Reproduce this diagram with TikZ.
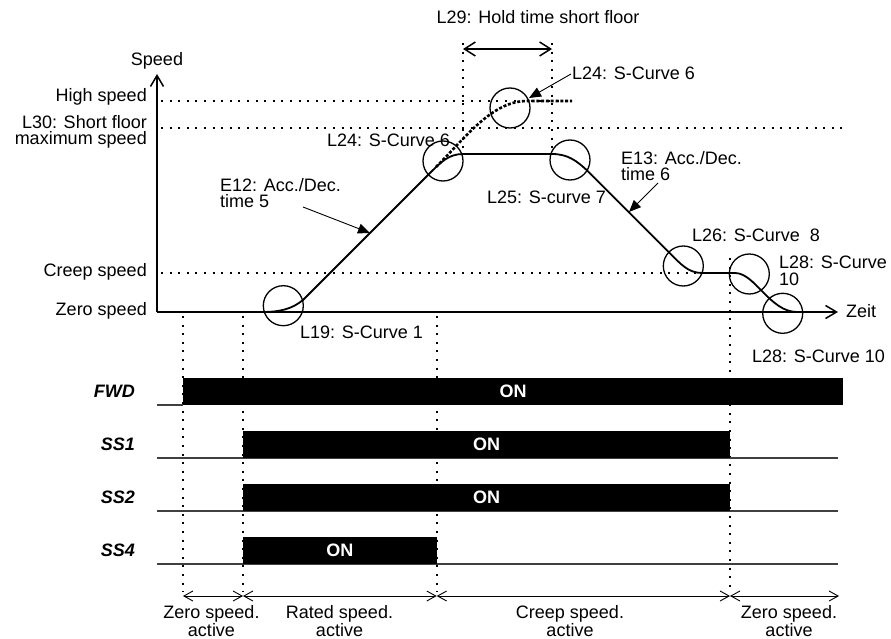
\documentclass[tikz,border=0pt]{standalone}
\usepackage{fontspec}
\setmainfont{Liberation Sans}
\usetikzlibrary{arrows.meta}
\tikzset{
  txt/.style={font=\fontsize{18}{16.5}\selectfont, inner sep=0pt},
  axisline/.style={line width=1.8pt, -{Straight Barb[length=11pt,width=13pt,line width=1.5pt]}},
  dotl/.style={line width=2pt, dash pattern=on 2pt off 6.6pt},
  prof/.style={line width=1.8pt},
  dashprof/.style={line width=2.6pt, dash pattern=on 3pt off 1.8pt},
  circ/.style={draw, circle, minimum size=40pt, line width=1.3pt, inner sep=0pt},
  ann/.style={line width=0.9pt, -{Triangle[length=12pt,width=10pt]}},
  holdarr/.style={line width=1.8pt, {Straight Barb[length=11pt,width=14pt,line width=1.5pt]}-{Straight Barb[length=11pt,width=14pt,line width=1.5pt]}},
  segarr/.style={line width=0.9pt, {Straight Barb[length=9pt,width=10pt]}-{Straight Barb[length=9pt,width=10pt]}},
  barnode/.style={fill=black, text=white, inner sep=0pt, minimum height=27pt, font=\fontsize{18}{18}\selectfont\bfseries},
  sig/.style={font=\fontsize{18}{18}\selectfont\bfseries\itshape, inner sep=0pt, anchor=east},
  baseln/.style={line width=1.3pt, black!75}
}
\begin{document}
\begin{tikzpicture}[x=1pt,y=-1pt]
\useasboundingbox (0,0) rectangle (891,639);

% ---------- speed diagram ----------
\coordinate (O) at (157,312);
\coordinate (Ytop) at (157,74);
\coordinate (Xend) at (838,312);

% dotted reference levels
\coordinate (hs1) at (161,101); \coordinate (hs2) at (572,101);
\coordinate (sf1) at (161,128); \coordinate (sf2) at (845,128);
\coordinate (cs1) at (161,273); \coordinate (cs2) at (700,273);
\draw[dotl] (hs1) -- (hs2);
\draw[dotl] (sf1) -- (sf2);
\draw[dotl] (cs1) -- (cs2);

% hold time
\coordinate (h1t) at (463,43); \coordinate (h1b) at (463,154);
\coordinate (h2t) at (552,43); \coordinate (h2b) at (552,154);
\draw[dotl] (h1t) -- (h1b);
\draw[dotl] (h2t) -- (h2b);
\coordinate (ha) at (463,49); \coordinate (hb) at (552,49);
\draw[holdarr] (ha) -- (hb);
\node[txt] (l29) at (538,17) {L29: Hold time short floor};

% axes
\draw[axisline] (O) -- (Ytop);
\draw[axisline] (O) -- (Xend);
\node[txt] (speedlbl) at (157,61) {Speed};
\node[txt, anchor=west] (zeit) at (846,311) {Zeit};

% level labels
\node[txt, anchor=east] (lhigh) at (147,97) {High speed};
\node[txt, anchor=east, align=right] (l30) at (147,132) {L30: Short floor\\maximum speed};
\node[txt, anchor=east] (lcreep) at (147,272) {Creep speed};
\node[txt, anchor=east] (lzero) at (147,311) {Zero speed};

% lower dotted verticals
\coordinate (v1t) at (183,316);   \coordinate (v1b) at (183,592);
\coordinate (v2t) at (243,316);   \coordinate (v2b) at (243,592);
\coordinate (v3t) at (436.7,316); \coordinate (v3b) at (436.7,592);
\coordinate (v4t) at (730,258);   \coordinate (v4b) at (730,592);
\draw[dotl] (v1t) -- (v1b);
\draw[dotl] (v2t) -- (v2b);
\draw[dotl] (v3t) -- (v3b);
\draw[dotl] (v4t) -- (v4b);

% speed profile
\draw[prof] (237,312) -- (262,312) .. controls (280,312) and (292,309) .. (303,300)
  -- (431,172) .. controls (441,162) and (449,154) .. (463,154)
  -- (552,154) .. controls (568,154) and (577,161) .. (588,171.3)
  -- (670,253.3) .. controls (680,263.3) and (688,273) .. (702,273)
  -- (735,273) .. controls (755,273) and (770,312) .. (797,312);
\draw[dashprof] (436,167) .. controls (466,137) and (492,101) .. (527,101) -- (572,101);

% circles
\node[circ] (c1) at (283.3,305.7) {};
\node[circ] (c2) at (443,161) {};
\node[circ] (c3) at (510,108) {};
\node[circ] (c4) at (570,160) {};
\node[circ] (c5) at (683.3,266) {};
\node[circ] (c6) at (749.3,274) {};
\node[circ] (c7) at (782.7,313.3) {};

% annotations
\node[txt, anchor=west] (l19) at (300,332) {L19: S-Curve 1};
\node[txt, anchor=west] (l24a) at (327,140) {L24: S-Curve 6};
\node[txt, anchor=west] (l24b) at (572,73) {L24: S-Curve 6};
\coordinate (l24tip) at (529,98);
\draw[ann] (l24b.west) ++(-1,1) -- (l24tip);
\node[txt, anchor=west, align=left] (e12) at (220,193) {E12: Acc./Dec.\\time 5};
\coordinate (e12s) at (303,207); \coordinate (e12tip) at (370,233);
\draw[ann] (e12s) -- (e12tip);
\node[txt, anchor=west] (l25) at (487,197) {L25: S-curve 7};
\node[txt, anchor=west, align=left] (e13) at (621,166) {E13: Acc./Dec.\\time 6};
\coordinate (e13s) at (658,183); \coordinate (e13tip) at (629,212);
\draw[ann] (e13s) -- (e13tip);
\node[txt, anchor=west] (l26) at (692,235) {L26: S-Curve\ \ 8};
\node[txt, anchor=west, align=left] (l28a) at (779,271) {L28: S-Curve\\10};
\node[txt, anchor=west] (l28b) at (752,356) {L28: S-Curve 10};

% ---------- signals ----------
\draw[baseln] (157,405) -- (183,405);
\draw[baseln] (157,458) -- (838,458);
\draw[baseln] (157,511) -- (838,511);
\draw[baseln] (157,564) -- (838,564);

\node[barnode, minimum width=660pt] (fwd) at (513,391.5) {ON};
\node[barnode, minimum width=487pt] (ss1) at (486.5,444.5) {ON};
\node[barnode, minimum width=487pt] (ss2) at (486.5,497.5) {ON};
\node[barnode, minimum width=193.7pt] (ss4) at (339.85,550.5) {ON};

\node[sig] (tfwd) at (135,391) {FWD};
\node[sig] (tss1) at (135,444) {SS1};
\node[sig] (tss2) at (135,497) {SS2};
\node[sig] (tss4) at (135,550) {SS4};

% phase arrows
\coordinate (p1) at (183,596);
\coordinate (p2) at (243,596);
\coordinate (p3) at (436.7,596);
\coordinate (p4) at (730,596);
\coordinate (p5) at (839,596);
\draw[segarr] (p1) -- (p2);
\draw[segarr] (p2) -- (p3);
\draw[segarr] (p3) -- (p4);
\draw[segarr] (p4) -- (p5);

\node[txt, align=center] (ph1) at (211.5,621) {Zero speed.\\active};
\node[txt, align=center] (ph2) at (339.5,621) {Rated speed.\\active};
\node[txt, align=center] (ph3) at (570,621) {Creep speed.\\active};
\node[txt, align=center] (ph4) at (789,621) {Zero speed.\\active};
\end{tikzpicture}
\end{document}
